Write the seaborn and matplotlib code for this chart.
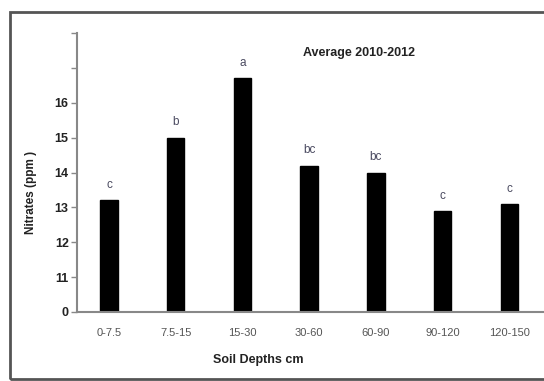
import pandas as pd
import matplotlib.pyplot as plt
import seaborn as sns
from matplotlib.patches import Rectangle

# Dados
profundidades = ['0-7.5', '7.5-15', '15-30', '30-60', '60-90', '90-120', '120-150']
nitrato = [13.2, 15.0, 16.7, 14.2, 14.0, 12.9, 13.1]
letras = ['c', 'b', 'a', 'bc', 'bc', 'c', 'c']
marcas_y = ['0', '11', '12', '13', '14', '15', '16', '', '']

# eixo quebrado: 0 fica logo abaixo de 11
base = 10
df = pd.DataFrame({'prof': profundidades, 'pos': [v - base for v in nitrato]})

sns.set_style('white')
plt.rcParams['font.family'] = ['Liberation Sans', 'DejaVu Sans']

fig = plt.figure(figsize=(5.44, 3.81), dpi=100)
ax = fig.add_axes([77 / 544, 69 / 381, 467 / 544, 279 / 381])

sns.barplot(data=df, x='prof', y='pos', color='black', width=0.26, ax=ax)
for p in ax.patches:
    p.set_edgecolor('black')

for i, (v, l) in enumerate(zip(df['pos'], letras)):
    ax.annotate(l, (i, v), xytext=(0, 11), textcoords='offset points',
                ha='center', va='center', fontsize=8.5, color='#4a4a60')

ax.set_xlim(-0.48, 6.52)
ax.set_ylim(0, 8)
ax.set_yticks(range(len(marcas_y)))
ax.set_yticklabels(marcas_y, fontsize=9, fontweight='bold', color='#222222')
ax.tick_params(axis='y', left=True, length=4, width=1, color='#888888', pad=2)
ax.tick_params(axis='x', bottom=False, labelsize=8, labelcolor='#555555', pad=8)

sns.despine(ax=ax, top=True, right=True)
for s in ['left', 'bottom']:
    ax.spines[s].set_color('#888888')
    ax.spines[s].set_linewidth(1.5)

ax.set_xlabel('')
ax.set_ylabel('Nitrates (ppm )', fontsize=8.5, fontweight='bold', color='#222222')
ax.yaxis.set_label_coords(-0.085, 0.43)

fig.text(359 / 544, 1 - 53 / 381, 'Average 2010-2012', ha='center', va='center',
         fontsize=9, fontweight='bold', color='#222222')
fig.text(258 / 544, 1 - 360 / 381, 'Soil Depths cm', ha='center', va='center',
         fontsize=9, fontweight='bold', color='#222222')

# moldura externa
fig.patches.append(Rectangle((10 / 544, 2 / 381), 540 / 544, 367 / 381,
                             transform=fig.transFigure, fill=False,
                             edgecolor='#555555', linewidth=2))

fig.savefig('out.png', dpi=100)
